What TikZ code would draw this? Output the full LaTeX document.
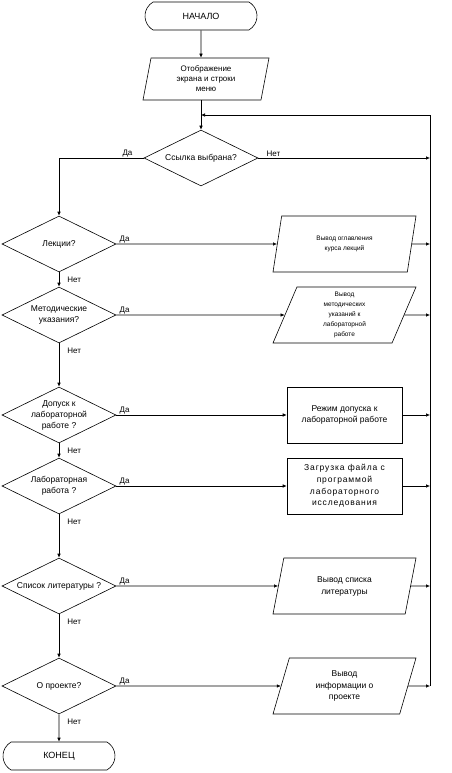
\documentclass[tikz,border=0pt]{standalone}
\usepackage{fontspec}
\setmainfont{Liberation Sans}
\usetikzlibrary{shapes.geometric}
\usetikzlibrary{shapes.misc}
\usetikzlibrary{arrows.meta}

\newcommand{\dlines}[1]{\makebox[0pt]{\begin{tabular}{@{}c@{}}#1\end{tabular}}}

\tikzset{
  base/.style={draw, line width=0.6pt, inner sep=1pt, font=\fontsize{8.5}{11}\selectfont},
  term/.style={base, rounded rectangle, rounded rectangle arc length=120,
    minimum width=114pt, minimum height=28pt, font=\fontsize{9}{11}\selectfont},
  decision/.style={base, diamond, minimum width=114pt, minimum height=56pt, inner sep=0pt},
  io/.style={base, trapezium, trapezium left angle=63.4, trapezium right angle=116.6,
    trapezium stretches body, minimum width=143pt, minimum height=56pt, align=center},
  proc/.style={base, rectangle, minimum width=115pt, minimum height=56pt, align=center},
  small/.style={font=\fontsize{6.5}{10}\selectfont},
  wide/.style={font=\fontsize{8.5}{11.7}\selectfont\addfontfeature{LetterSpace=10}},
  yeslbl/.style={at start, anchor=south west, inner sep=1pt, xshift=2pt, font=\fontsize{8}{10}\selectfont},
  nolbl/.style={at start, anchor=north west, inner sep=1pt, xshift=7pt, yshift=-3pt, font=\fontsize{8}{10}\selectfont}
}

\begin{document}
\begin{tikzpicture}[x=1pt,y=-1pt,line width=0.6pt,>={Latex[length=4pt,width=3.5pt]}]
        \useasboundingbox (0,0) rectangle (451,773);

        \node[term] (start) at (201,16) {НАЧАЛО};
        \node[io, trapezium left angle=74, trapezium right angle=106,
          minimum width=126pt, minimum height=42pt, font=\fontsize{8}{10}\selectfont]
          (menu) at (206,79) {Отображение\\экрана и строки\\меню};
        \node[decision] (link) at (201,158) {\dlines{Ссылка выбрана?}};

        \node[decision] (lec) at (59,244) {\dlines{Лекции?}};
        \node[decision] (met) at (59,315) {\dlines{Методические\\указания?}};
        \node[decision] (adm) at (59,415) {\dlines{Допуск к\\лабораторной\\работе ?}};
        \node[decision] (lab) at (59,486) {\dlines{Лабораторная\\работа ?}};
        \node[decision] (lit) at (59,586) {\dlines{Список литературы ?}};
        \node[decision] (abt) at (59,686) {\dlines{О проекте?}};
        \node[term] (stop) at (59,756) {КОНЕЦ};

        \node[io, small, font=\fontsize{6.5}{9.5}\selectfont] (outLec) at (344.5,244) {Вывод оглавления\\курса лекций};
        \node[io, small] (outMet) at (344.5,315) {Вывод\\методических\\указаний к\\лабораторной\\работе};
        \node[proc] (outAdm) at (344.5,415) {Режим допуска к\\лабораторной работе};
        \node[proc, wide] (outLab) at (344.5,486) {Загрузка файла с\\программой\\лабораторного\\исследования};
        \node[io, font=\fontsize{8.5}{12}\selectfont] (outLit) at (344.5,586) {Вывод списка\\литературы};
        \node[io, font=\fontsize{8.5}{11.5}\selectfont] (outAbt) at (344.5,686) {Вывод\\информации о\\проекте};

        \coordinate (back) at (201,115);
        \coordinate (colTop) at (430,115);
        \coordinate (colBot) at (430,686);

        \draw[->] (start) -- (start |- menu.north);
        \draw[->] (link |- menu.south) -- (link.north);
        \draw[->] (colBot) -- (colTop) -- (back);

        \draw[->] (link.west) -| node[at start, anchor=south east, inner sep=1pt, xshift=-10pt,
          font=\fontsize{8}{10}\selectfont] (linkYes) {Да} (lec.north);
        \draw[->] (link.east) -- node[yeslbl, xshift=5pt] (linkNo) {Нет} (link -| colTop);

        \draw[->] (lec) -- node[nolbl] (lecNo) {Нет} (met);
        \draw[->] (met) -- node[nolbl] (metNo) {Нет} (adm);
        \draw[->] (adm) -- node[nolbl] (admNo) {Нет} (lab);
        \draw[->] (lab) -- node[nolbl] (labNo) {Нет} (lit);
        \draw[->] (lit) -- node[nolbl] (litNo) {Нет} (abt);
        \draw[->] (abt) -- node[nolbl] (abtNo) {Нет} (stop);

        \draw[->] (lec) -- node[yeslbl] (lecYes) {Да} (outLec);
        \draw[->] (met) -- node[yeslbl] (metYes) {Да} (outMet);
        \draw[->] (adm) -- node[yeslbl] (admYes) {Да} (outAdm);
        \draw[->] (lab) -- node[yeslbl] (labYes) {Да} (outLab);
        \draw[->] (lit) -- node[yeslbl] (litYes) {Да} (outLit);
        \draw[->] (abt) -- node[yeslbl] (abtYes) {Да} (outAbt);

        \draw[->] (outLec) -- (outLec -| colTop);
        \draw[->] (outMet) -- (outMet -| colTop);
        \draw[->] (outAdm) -- (outAdm -| colTop);
        \draw[->] (outLab) -- (outLab -| colTop);
        \draw[->] (outLit) -- (outLit -| colTop);
        \draw[->] (outAbt) -- (colBot);
    \end{tikzpicture}
\end{document}
